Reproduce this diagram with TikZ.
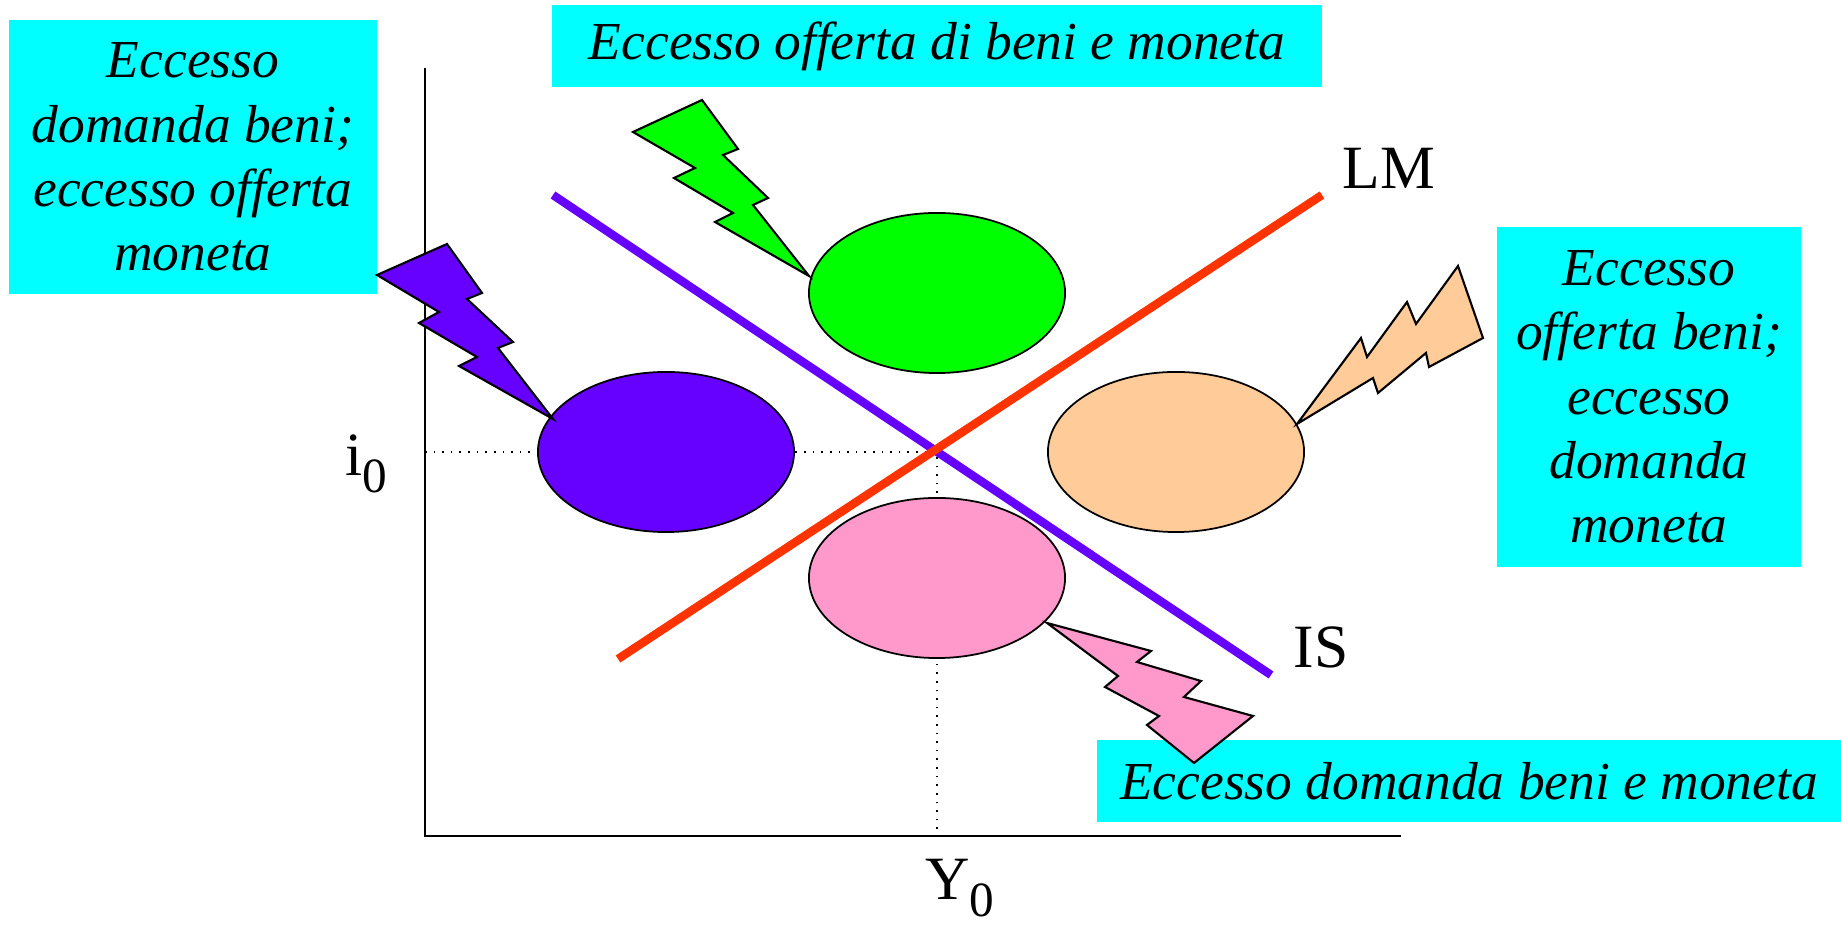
\documentclass[tikz,border=0pt]{standalone}
\usepackage{fontspec}
\setmainfont{Liberation Serif}
\usetikzlibrary{shapes.geometric}
\definecolor{boxcyan}{HTML}{00FFFF}
\definecolor{blobviolet}{HTML}{6600FF}
\definecolor{blobgreen}{HTML}{00FF00}
\definecolor{blobpeach}{HTML}{FFCC99}
\definecolor{blobpink}{HTML}{FF99CC}
\definecolor{lmred}{HTML}{FF3300}
\newcommand{\subzero}{\raisebox{-4.8pt}{\fontsize{14}{14}\selectfont 0}}

\begin{document}
\begin{tikzpicture}[x=0.01cm,y=-0.01cm,
  txtbox/.style={fill=boxcyan,inner sep=0pt,align=center,font=\fontsize{15.2}{18.3}\selectfont\itshape},
  blob/.style={ellipse,draw=black,line width=0.5pt,minimum width=2.56cm,minimum height=1.6cm,inner sep=0pt},
  bolt/.style={draw=black,line width=0.6pt,line join=miter},
  curvelbl/.style={font=\fontsize{17.5}{20}\selectfont,inner sep=0pt}]
\useasboundingbox (0,0) rectangle (1841,925);
\draw[line width=0.45pt] (425,68)--(425,836)--(1401,836);
\draw[dotted,line width=0.45pt] (425,452)--(937,452)--(937,836);
\draw[blobviolet,line width=2.4pt] (553,195)--(1271,675);
\draw[lmred,line width=2.4pt] (618,659)--(1322,195);
\node[blob,fill=blobgreen] (green) at (937,293) {};
\node[blob,fill=blobviolet] (violet) at (666,452) {};
\node[blob,fill=blobpeach] (peach) at (1176,452) {};
\node[blob,fill=blobpink] (pink) at (937,578) {};
\node[txtbox,minimum width=3.68cm,minimum height=2.74cm] (boxleft) at (193,157) {Eccesso\\domanda beni;\\eccesso offerta\\moneta};
\node[txtbox,minimum width=7.69cm,minimum height=0.82cm] (boxtop) at (937,46) {Eccesso offerta di beni e moneta};
\node[txtbox,minimum width=3.04cm,minimum height=3.39cm] (boxright) at (1649,397) {Eccesso\\offerta beni;\\eccesso\\domanda\\moneta};
\node[txtbox,minimum width=7.44cm,minimum height=0.82cm] (boxbottom) at (1469,781) {Eccesso domanda beni e moneta};
\filldraw[bolt,fill=blobviolet] (377,275)--(447,244)--(482,293)--(467,299)--(513,342)--(498,348)--(553,419)--(459,366)--(477,357)--(419,323)--(439,312)--cycle;
\filldraw[bolt,fill=blobgreen] (633,132)--(702,100)--(738,149)--(723,155)--(768,198)--(753,205)--(809,276)--(715,222)--(733,213)--(674,178)--(695,168)--cycle;
\filldraw[bolt,fill=blobpeach] (1297,424)--(1361,338)--(1367,357)--(1407,302)--(1416,324)--(1458,266)--(1483,338)--(1429,367)--(1426,353)--(1378,393)--(1373,378)--cycle;
\filldraw[bolt,fill=blobpink] (1047,623)--(1151,651)--(1137,662)--(1201,681)--(1184,697)--(1253,716)--(1194,763)--(1147,725)--(1159,716)--(1105,687)--(1118,676)--cycle;
\node[curvelbl] (lm) at (1389,168) {LM};
\node[curvelbl] (is) at (1321,647) {IS};
\node[curvelbl] (izero) at (366,464) {i\subzero};
\node[curvelbl] (yzero) at (960,888) {Y\subzero};
\end{tikzpicture}
\end{document}
